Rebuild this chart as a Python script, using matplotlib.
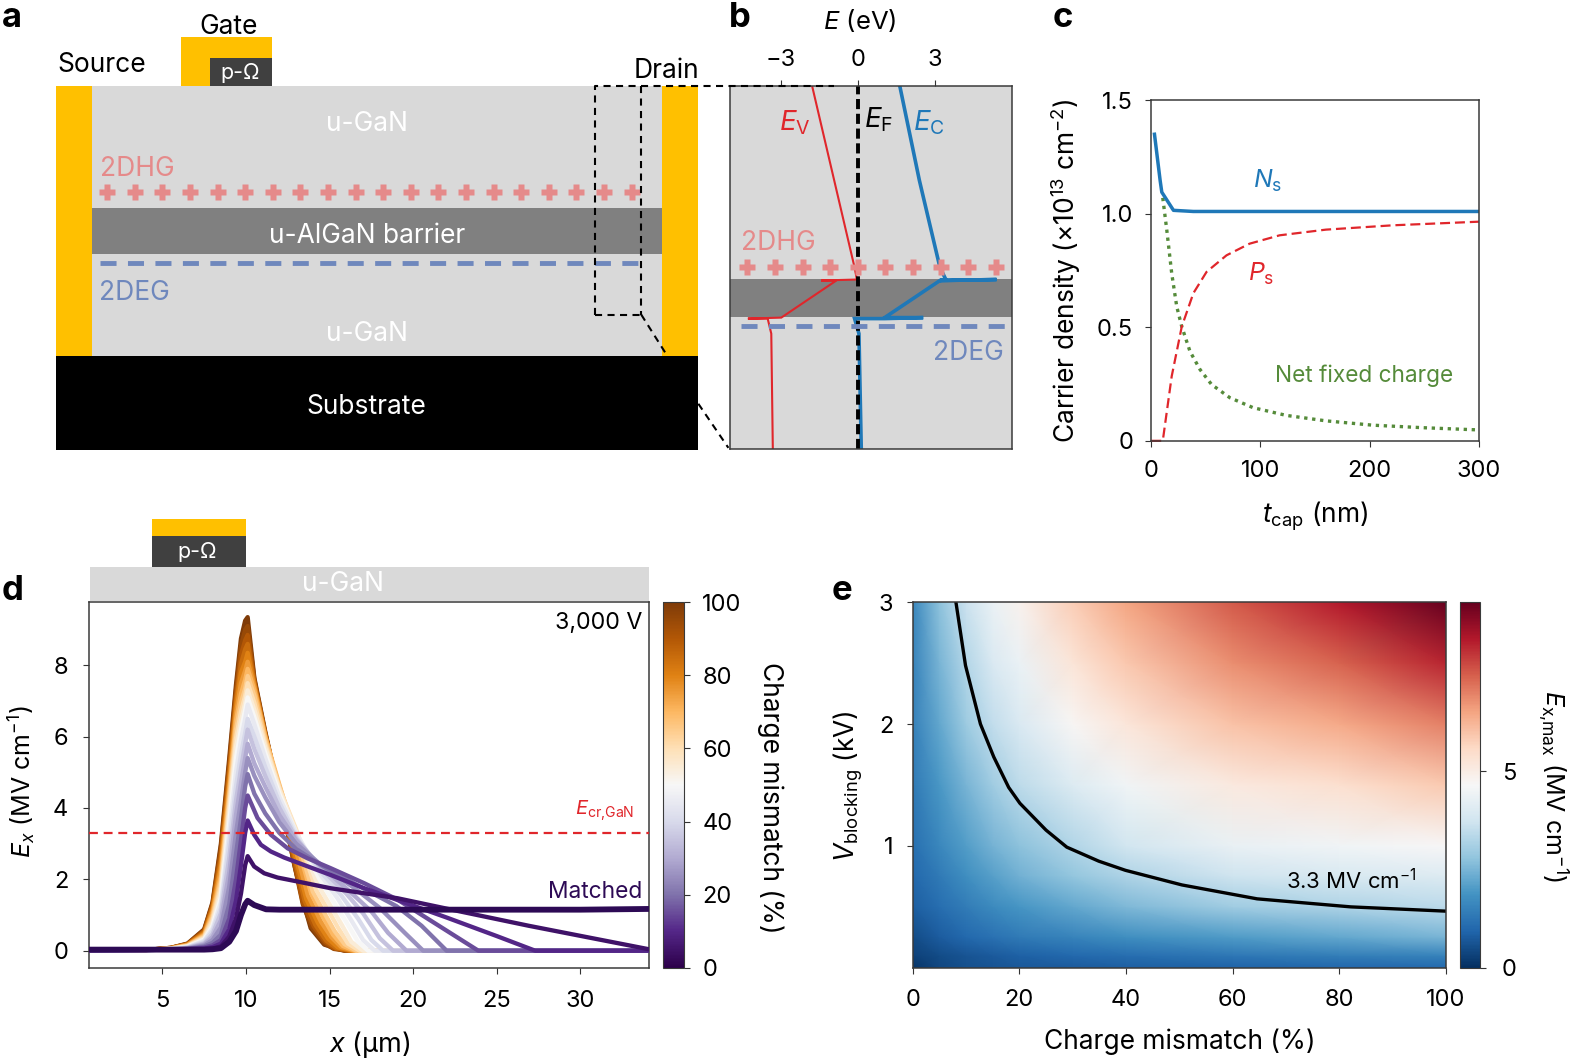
import numpy as np
import matplotlib
matplotlib.use("Agg")
import matplotlib.pyplot as plt
from matplotlib.patches import Rectangle
from matplotlib.cm import ScalarMappable
from matplotlib.colors import Normalize

plt.rcParams.update({
    "font.family": ["Inter", "DejaVu Sans"],
    "mathtext.fontset": "custom",
    "mathtext.rm": "Inter",
    "mathtext.it": "Inter:italic",
    "mathtext.default": "regular",
    "font.size": 17,
    "axes.linewidth": 1.1,
    "axes.edgecolor": "#3a3a3a",
    "xtick.major.size": 4,
    "ytick.major.size": 4,
    "xtick.color": "#333333",
    "ytick.color": "#333333",
    "xtick.labelcolor": "black",
    "ytick.labelcolor": "black",
})

W, H = 1568, 1056   # working coordinates
GOLD = "#FFC000"
LIGHT = "#D9D9D9"
MID = "#808080"
DARK = "#404040"
PINK = "#E58A8A"
SLATE = "#6F88BD"
RED = "#E0262B"
BLUE = "#1F78B8"
GREEN = "#558B3A"
PURPLE = "#2D0A55"

# ---- panel b: band diagram (depth in schematic units, energy in eV)
ev_E = [-1.77, -0.12, -0.03, -1.42, -0.83, -2.97, -4.27, -3.5, -3.36, -3.3]
ev_d = [0, 181, 193, 194, 194, 231, 232, 232, 247, 362]
ec_E = [1.64, 2.4, 3.2, 3.43, 3.2, 5.4, 3.2, 1.05, 2.55, 1.05, -0.12, 0.05, 0.14]
ec_d = [0, 94, 181, 193, 194, 193, 194, 231, 231, 232, 232, 247, 362]
b_ticks = [-3, 0, 3]

# ---- panel c: carrier density
ns_t = [3, 8.2, 9.7, 20.4, 38.6, 300]
ns_v = [1.35, 1.146, 1.095, 1.015, 1.01, 1.01]
ps_t = [0, 10.6, 18.8, 28, 38.6, 50.7, 69, 90, 117.6, 160, 221, 300]
ps_v = [0, 0, 0.285, 0.503, 0.65, 0.744, 0.817, 0.868, 0.905, 0.93, 0.949, 0.965]
fx_t = [10.6, 14.3, 18.8, 23.4, 28, 35.5, 44.7, 55.3, 72, 93.3, 123.7, 160, 202.7, 248, 300]
fx_v = [1.07, 0.927, 0.737, 0.591, 0.503, 0.394, 0.314, 0.248, 0.19, 0.146, 0.112, 0.088, 0.069, 0.058, 0.048]

# ---- panel d: field profiles, one per charge mismatch
mismatch = [0, 5, 10, 15, 20, 25, 30, 35, 40, 45, 50, 55, 60, 65, 70, 75, 80, 85, 90, 95, 100]
left_x = [0.5, 4, 5.5, 6.5, 7.5, 8, 8.5, 9, 9.4, 9.7, 9.95, 10.1]
left_E = [
    [.03, .03, .03, .03, .03, .04, .07, .25, .55, 1.0, 1.3, 1.40],
    [.03, .03, .03, .03, .04, .06, .12, .40, .90, 1.6, 2.4, 2.65],
    [.01, .02, .03, .04, .06, .10, .20, .60, 1.4, 2.4, 3.3, 3.65],
    [.01, .02, .03, .05, .09, .15, .30, .90, 2.0, 3.1, 4.0, 4.35],
    [.01, .02, .03, .05, .12, .22, .45, 1.3, 2.7, 3.7, 4.6, 4.95],
    [.01, .02, .03, .06, .15, .30, .65, 1.8, 3.3, 4.2, 5.0, 5.40],
    [.01, .02, .03, .07, .18, .38, .85, 2.2, 3.8, 4.7, 5.4, 5.80],
    [.01, .02, .04, .08, .21, .46, 1.05, 2.6, 4.2, 5.1, 5.8, 6.20],
    [.01, .02, .04, .09, .25, .55, 1.2, 3.0, 4.6, 5.5, 6.1, 6.50],
    [.01, .02, .05, .10, .28, .62, 1.35, 3.3, 5.0, 5.9, 6.5, 6.90],
    [.01, .02, .05, .11, .31, .70, 1.5, 3.6, 5.4, 6.2, 6.75, 7.10],
    [.01, .02, .05, .12, .34, .78, 1.65, 3.85, 5.7, 6.45, 6.95, 7.30],
    [.01, .02, .06, .13, .37, .86, 1.8, 4.05, 5.95, 6.7, 7.15, 7.50],
    [.01, .02, .06, .14, .40, .94, 1.95, 4.25, 6.2, 6.95, 7.35, 7.70],
    [.01, .02, .06, .15, .43, 1.02, 2.1, 4.45, 6.45, 7.2, 7.6, 7.90],
    [.01, .02, .07, .16, .46, 1.10, 2.3, 4.6, 6.65, 7.5, 7.85, 8.10],
    [.01, .02, .07, .17, .49, 1.16, 2.45, 4.8, 6.85, 7.8, 8.1, 8.35],
    [.01, .02, .07, .18, .52, 1.22, 2.6, 4.95, 7.0, 8.05, 8.45, 8.60],
    [.01, .02, .08, .18, .55, 1.27, 2.75, 5.1, 7.15, 8.3, 8.7, 8.85],
    [.01, .02, .08, .19, .58, 1.32, 2.9, 5.25, 7.3, 8.55, 9.0, 9.10],
    [.01, .02, .08, .20, .60, 1.36, 3.0, 5.4, 7.45, 8.75, 9.25, 9.35],
]
right_pts = [
    [(10.49, 1.28), (11.2, 1.16), (12, 1.15), (20, 1.15), (30, 1.15), (34, 1.17)],
    [(10.49, 2.36), (11.09, 2.17), (11.89, 2.05), (13.08, 1.94), (15.07, 1.75), (17.08, 1.61), (19.07, 1.47), (22.4, 1.14), (26.9, .70), (34, .05)],
    [(10.49, 3.25), (10.89, 2.97), (11.49, 2.78), (12.29, 2.61), (13.48, 2.40), (15.08, 2.12), (17.08, 1.75), (19.07, 1.42), (22, .93), (25, .41), (27.3, 0), (34, 0)],
    [(10.69, 3.72), (11.49, 3.25), (12.49, 2.87), (13.68, 2.59), (15.08, 2.31), (17.08, 1.89), (19.07, 1.43), (21.5, .71), (23.9, 0), (34, 0)],
    [(10.5, 4.40), (11.15, 3.85), (12, 3.30), (13, 2.85), (14.5, 2.40), (16.8, 1.80), (19, 1.25), (20.5, .70), (22, 0), (34, 0)],
    [(10.5, 4.90), (11.15, 4.30), (12, 3.60), (13, 3.00), (14.5, 2.40), (16.5, 1.75), (18, 1.20), (19.5, .50), (20.6, 0), (34, 0)],
    [(10.5, 5.25), (11.15, 4.60), (12, 3.80), (13, 3.10), (14.5, 2.35), (16, 1.75), (17.5, 1.10), (18.5, .50), (19.6, 0), (34, 0)],
    [(10.5, 5.65), (11.15, 4.90), (12, 4.00), (13, 3.15), (14.5, 2.30), (16, 1.60), (17, 1.05), (18, .35), (18.8, 0), (34, 0)],
    [(10.5, 6.00), (11.15, 5.15), (12, 4.15), (13, 3.20), (14.5, 2.20), (15.7, 1.55), (16.7, .90), (17.5, .30), (18.2, 0), (34, 0)],
    [(10.5, 6.35), (11.15, 5.40), (12, 4.30), (13, 3.30), (14.5, 2.10), (15.5, 1.45), (16.3, .85), (17, .30), (17.7, 0), (34, 0)],
    [(10.5, 6.55), (11.15, 5.55), (12, 4.40), (13, 3.30), (14.4, 2.00), (15.2, 1.40), (16, .80), (16.7, .25), (17.3, 0), (34, 0)],
    [(10.5, 6.75), (11.15, 5.70), (12, 4.50), (13, 3.35), (14.3, 1.85), (15, 1.30), (15.7, .75), (16.3, .25), (17, 0), (34, 0)],
    [(10.5, 6.95), (11.15, 5.80), (12, 4.55), (13, 3.40), (14.2, 1.70), (14.9, 1.15), (15.5, .65), (16.1, .20), (16.8, 0), (34, 0)],
    [(10.5, 7.15), (11.15, 5.90), (12, 4.60), (12.9, 3.40), (14, 1.65), (14.7, 1.05), (15.3, .55), (15.9, .18), (16.6, 0), (34, 0)],
    [(10.5, 7.30), (11.15, 6.00), (12, 4.65), (12.8, 3.40), (13.9, 1.60), (14.6, .95), (15.2, .45), (15.8, .13), (16.5, 0), (34, 0)],
    [(10.5, 7.40), (11.15, 6.00), (12, 4.55), (12.7, 3.30), (13.7, 1.55), (14.5, .80), (15.1, .38), (15.7, .10), (16.4, 0), (34, 0)],
    [(10.5, 7.45), (11.15, 6.05), (12, 4.45), (12.6, 3.30), (13.6, 1.45), (14.3, .78), (14.9, .34), (15.5, .09), (16.3, 0), (34, 0)],
    [(10.5, 7.50), (11.15, 6.05), (12.02, 4.40), (12.5, 3.40), (13.5, 1.40), (14.15, .72), (14.8, .28), (15.4, .07), (16.2, 0), (34, 0)],
    [(10.5, 7.55), (11.15, 6.10), (12.03, 4.30), (12.45, 3.45), (13.4, 1.35), (14.05, .68), (14.75, .24), (15.3, .06), (16.1, 0), (34, 0)],
    [(10.5, 7.60), (11.15, 6.10), (12.05, 4.25), (12.4, 3.50), (13.4, 1.30), (13.95, .65), (14.7, .20), (15.25, .05), (16, 0), (34, 0)],
    [(10.5, 7.65), (11.15, 6.15), (12.07, 4.20), (12.37, 3.60), (12.89, 2.40), (13.48, 1.28), (13.87, .63), (14.68, .17), (15.88, 0), (34, 0)],
]
crit_field = 3.3

# ---- panel e: peak field map
grid_m = [0, 5, 10, 15, 20, 30, 40, 60, 80, 100]
grid_v = [0, 0.1, 0.25, 0.5, 0.75, 1, 1.5, 2, 2.5, 3]
grid_E = [
    [.10, .40, .55, .62, .70, .75, .80, .90, .95, 1.00],
    [.30, .50, .65, .75, .85, 1.00, 1.10, 1.28, 1.42, 1.55],
    [.50, .78, 1.00, 1.18, 1.35, 1.55, 1.75, 2.00, 2.25, 2.50],
    [.80, 1.10, 1.40, 1.70, 1.90, 2.25, 2.55, 3.00, 3.20, 3.40],
    [1.00, 1.35, 1.75, 2.10, 2.40, 2.80, 3.20, 3.70, 3.90, 4.00],
    [1.15, 1.60, 2.05, 2.45, 2.75, 3.25, 3.75, 4.30, 4.50, 4.65],
    [1.35, 1.95, 2.50, 3.00, 3.45, 4.00, 4.50, 5.10, 5.40, 5.85],
    [1.50, 2.25, 2.95, 3.50, 3.95, 4.70, 5.20, 6.00, 6.40, 7.00],
    [1.55, 2.50, 3.30, 3.95, 4.35, 5.25, 5.90, 6.80, 7.40, 8.20],
    [1.60, 2.75, 3.65, 4.35, 4.85, 5.80, 6.50, 7.50, 8.35, 9.30],
]
cont_m = [8.1, 9.9, 12.7, 15.2, 18, 20.1, 25, 28.9, 34.9, 39.9, 50.5, 64.6, 82.2, 100]
cont_v = [3.0, 2.48, 2.0, 1.73, 1.48, 1.35, 1.13, 0.99, 0.875, 0.80, 0.68, 0.566, 0.50, 0.465]


def box(x0, y0, x1, y1):
    """Axes placed by reference edges."""
    return [x0 / W, 1 - y1 / H, (x1 - x0) / W, (y1 - y0) / H]


fig = plt.figure(figsize=(15.71, 10.58), dpi=100)
fig.patch.set_facecolor("white")

# overlay in working coordinates for schematic and labels
ov = fig.add_axes([0, 0, 1, 1], zorder=5)
ov.set_xlim(0, W)
ov.set_ylim(H, 0)
ov.axis("off")
ov.patch.set_alpha(0)


def rect(x0, y0, x1, y1, c, z=1):
    ov.add_patch(Rectangle((x0, y0), x1 - x0, y1 - y0, fc=c, ec="none", zorder=z))


def T(x, y, s, c="black", fs=19, rot=0, **kw):
    if rot == 90:
        x += 2
    elif rot == 270:
        x -= 1
    else:
        y += 2.5
    ov.text(x, y, s, color=c, fontsize=fs, rotation=rot, ha="center", va="center",
            rotation_mode="anchor" if rot else "default", zorder=8, **kw)


# panel a
rect(92, 86, 661, 355, LIGHT)
rect(92, 208, 661, 254, MID)
rect(56, 86, 92, 355, GOLD)
rect(661, 86, 697, 355, GOLD)
rect(56, 355, 697, 449, "black")
rect(181, 37, 271, 86, GOLD)
rect(210, 58, 271, 86, DARK)
T(228, 24, "Gate")
T(102, 62, "Source")
T(665, 68, "Drain")
T(240, 70, "p-Ω", "white", 15.5)
T(366, 121, "u-GaN", "white")
T(366, 233, "u-AlGaN barrier", "white")
T(366, 331, "u-GaN", "white")
T(366, 404, "Substrate", "white")
T(137, 166, "2DHG", PINK)
T(134, 290, "2DEG", SLATE)
ov.plot(np.arange(107, 640, 27.55), [192] * 20, ls="none", marker="P", ms=11.5, mfc=PINK, mec="none", zorder=4)
ov.plot([100, 640], [263, 263], color=SLATE, lw=3.5, dashes=(3.3, 2.35), zorder=4)

# zoom connector
dash = dict(color="black", lw=1.5, dashes=(3.4, 2.6), zorder=7)
ov.plot([594, 594, 832], [314, 86, 86], **dash)
ov.plot([594, 640], [314, 314], **dash)
ov.plot([640, 640], [86, 314], **dash)
ov.plot([640, 664], [314, 352], **dash)
ov.plot([697, 727], [403, 447], **dash)

# panel b
ab = fig.add_axes(box(729, 86, 1010, 448), zorder=2, facecolor=LIGHT)
ab.set_xlim(-4.95, 6.0)
ab.set_ylim(362, 0)
ab.add_patch(Rectangle((-4.95, 192), 10.95, 38, fc=MID, ec="none"))
ab.plot(ev_E, ev_d, color=RED, lw=1.5, solid_joinstyle="miter")
ab.plot(ec_E, ec_d, color=BLUE, lw=2.6, solid_joinstyle="miter")
ab.axvline(0, color="black", lw=2.8, dashes=(2.6, 1.2))
ab.xaxis.tick_top()
ab.set_xticks(b_ticks, [str(t).replace("-", "−") for t in b_ticks])
ab.set_yticks([])
ab.tick_params(axis="x", pad=7)
ov.plot(np.arange(746, 1000, 27.55), [266] * 10, ls="none", marker="P", ms=11.5, mfc=PINK, mec="none", zorder=4)
ov.plot([740, 1003], [325, 325], color=SLATE, lw=3.5, dashes=(3.3, 2.35), zorder=4)
T(777, 240, "2DHG", PINK)
T(967, 350, "2DEG", SLATE)
T(793, 120, r"$\mathit{E}_{\mathrm{V}}$", RED, 20)
T(877, 117, r"$\mathit{E}_{\mathrm{F}}$", "black", 20)
T(927, 120, r"$\mathit{E}_{\mathrm{C}}$", BLUE, 20)
T(858, 18, r"$\mathit{E}$ (eV)", "black", 18.5)

# panel c
ac = fig.add_axes(box(1149, 100, 1476, 440), zorder=2)
ac.set_xlim(0, 300)
ac.set_ylim(0, 1.5)
ac.plot(fx_t, fx_v, color=GREEN, lw=2.4, ls=(0, (1, 1.4)), clip_on=False)
ac.plot(ps_t, ps_v, color=RED, lw=1.6, ls=(0, (4.5, 2.2)), clip_on=False)
ac.plot(ns_t, ns_v, color=BLUE, lw=2.5)
ac.set_xticks([0, 100, 200, 300])
ac.set_yticks([0, 0.5, 1.0, 1.5], ["0", "0.5", "1.0", "1.5"])
ac.tick_params(axis="x", pad=10)
ac.tick_params(axis="y", pad=9)
T(1265, 178, r"$\mathit{N}_{\mathrm{s}}$", BLUE, 18)
T(1259, 271, r"$\mathit{P}_{\mathrm{s}}$", RED, 18)
T(1361, 373, "Net fixed charge", GREEN, 16.3)
T(1062, 270, r"Carrier density ($\times$10$^{13}$ cm$^{-2}$)", "black", 19, rot=90)
T(1313, 513, r"$\mathit{t}_{\mathrm{cap}}$ (nm)", "black", 19)

# panel d
rect(90, 566, 648, 600, LIGHT)
rect(152, 535, 246, 566, DARK)
rect(152, 518, 246, 535, GOLD)
T(342, 580, "u-GaN", "white")
T(197, 548, "p-Ω", "white", 15.5)
ad = fig.add_axes(box(89, 601, 648, 966), zorder=2)
ad.set_xlim(0.62, 34.12)
ad.set_ylim(-0.48, 9.77)
cmap_d = plt.get_cmap("PuOr_r")
for i in range(len(mismatch) - 1, -1, -1):
    xs = left_x + [p[0] for p in right_pts[i]]
    ys = left_E[i] + [p[1] for p in right_pts[i]]
    col = cmap_d(mismatch[i] / 100)
    lw = 4.2 if mismatch[i] == 0 else 3.1
    ad.plot(xs, ys, color=col if mismatch[i] else PURPLE, lw=lw, solid_joinstyle="round", zorder=3 + (100 - mismatch[i]) / 100)
ad.axhline(crit_field, color=RED, lw=1.6, ls=(0, (4, 2.6)), zorder=5)
ad.set_xticks([5, 10, 15, 20, 25, 30])
ad.set_yticks([0, 2, 4, 6, 8])
ad.tick_params(axis="x", pad=12)
ad.tick_params(axis="y", pad=11)
T(598, 619, "3,000 V", "black", 16.7)
T(604, 807, r"$\mathit{E}_{\mathrm{cr{,}GaN}}$", RED, 14.5)
T(594, 888, "Matched", PURPLE, 16.4)
T(20, 780, r"$\mathit{E}_{\mathit{x}}$ (MV cm$^{-1}$)", "black", 18, rot=90)
T(369, 1040, r"$\mathit{x}$ (µm)", "black", 19.5)

cd = fig.add_axes(box(662, 601, 683, 966), zorder=2)
cb = fig.colorbar(ScalarMappable(Normalize(0, 100), cmap_d), cax=cd)
cb.set_ticks([0, 20, 40, 60, 80, 100])
cb.outline.set_linewidth(0.8)
cd.tick_params(pad=9)
T(770, 796, "Charge mismatch (%)", "black", 19, rot=270)

# panel e
ae = fig.add_axes(box(911, 601, 1443, 966), zorder=2)
norm_e = Normalize(0, 9.3)
ae.pcolormesh(grid_m, grid_v, np.array(grid_E), cmap="RdBu_r", norm=norm_e, shading="gouraud", rasterized=True)
ae.plot(cont_m, cont_v, color="black", lw=2.4)
ae.set_xlim(0, 100)
ae.set_ylim(0, 3)
ae.set_xticks([0, 20, 40, 60, 80, 100])
ae.set_yticks([1, 2, 3])
ae.tick_params(axis="x", pad=11)
ae.tick_params(axis="y", pad=10)
T(1349, 876, r"3.3 MV cm$^{-1}$", "black", 15.9)
T(1177, 1037, "Charge mismatch (%)", "black", 19)
T(845, 785, r"$\mathit{V}_{\mathrm{blocking}}$ (kV)", "black", 19, rot=90)

ce = fig.add_axes(box(1457, 601, 1477, 966), zorder=2)
cb2 = fig.colorbar(ScalarMappable(norm_e, "RdBu_r"), cax=ce)
cb2.set_ticks([0, 5])
cb2.outline.set_linewidth(0.8)
ce.tick_params(pad=12)
T(1550, 785, r"$\mathit{E}_{\mathrm{x{,}max}}$ (MV cm$^{-1}$)", "black", 18, rot=270)

# panel letters
for (x, y, s) in [(12, 15, "a"), (738, 15, "b"), (1061, 15, "c"), (13, 587, "d"), (840, 587, "e")]:
    T(x, y, s, "black", 25, fontweight="bold")

fig.savefig("out.png", dpi=100)
